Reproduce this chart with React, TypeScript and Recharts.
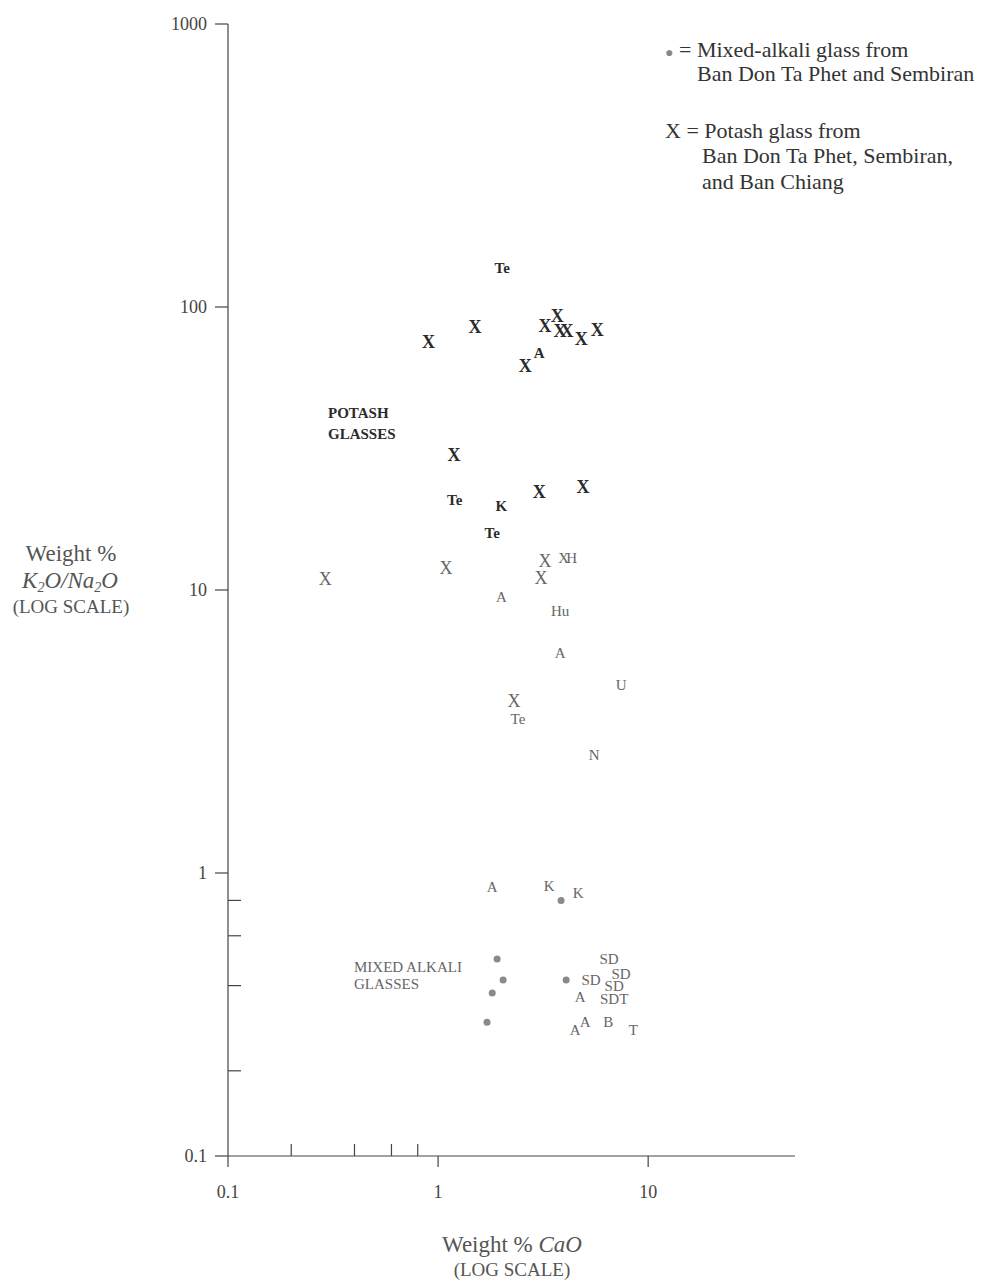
import { Scatter, ScatterChart, XAxis, YAxis } from 'recharts'

const SERIF = '"Times New Roman", "Liberation Serif", serif'
const AXIS = '#444'

const xTicks = [0.1, 0.2, 0.4, 0.6, 0.8, 1, 10]
const xMajor = [0.1, 1, 10]
const yTicks = [0.1, 0.2, 0.4, 0.6, 0.8, 1, 10, 100, 1000]
const yMajor = [0.1, 1, 10, 100, 1000]

// dark bold marks of the potash cluster
const boldLabels = ['X', 'X', 'Te', 'X', 'X', 'X', 'X', 'X', 'X', 'X', 'A', 'X', 'Te', 'K', 'X', 'X', 'Te']
const boldCaO = [0.9, 1.5, 2.02, 3.23, 3.69, 3.81, 4.11, 4.8, 5.72, 2.6, 3.03, 1.19, 1.2, 2.0, 3.03, 4.9, 1.81]
const boldRatio = [75, 85, 137, 86, 93, 82, 82, 77, 83, 62, 69, 30, 20.8, 19.8, 22.2, 23.1, 15.9]

// lighter plain marks
const lightLabels = [
  'X', 'X', 'X', 'XH', 'X', 'A', 'Hu', 'A', 'U', 'X', 'Te', 'N',
  'A', 'K', 'K', 'SD', 'SD', 'SD', 'SD', 'SDT', 'A', 'A', 'A', 'B', 'T',
]
const lightCaO = [
  0.29, 1.09, 3.23, 4.07, 3.09, 2.0, 3.81, 3.81, 7.44, 2.3, 2.4, 5.53,
  1.81, 3.38, 4.64, 6.52, 5.35, 7.43, 6.89, 6.89, 4.75, 5.01, 4.49, 6.45, 8.49,
]
const lightRatio = [
  10.9, 12.0, 12.7, 13.0, 11.0, 9.45, 8.43, 5.99, 4.62, 4.05, 3.5, 2.61,
  0.89, 0.9, 0.85, 0.497, 0.419, 0.44, 0.399, 0.359, 0.365, 0.297, 0.279, 0.297, 0.279,
]

// mixed-alkali glass (dots)
const dotCaO = [3.85, 1.91, 2.04, 1.81, 1.71, 4.07]
const dotRatio = [0.8, 0.497, 0.419, 0.377, 0.297, 0.419]

const boldData = boldLabels.map((label, i) => ({ label, cao: boldCaO[i], ratio: boldRatio[i] }))
const lightData = lightLabels.map((label, i) => ({ label, cao: lightCaO[i], ratio: lightRatio[i] }))
const dotData = dotCaO.map((cao, i) => ({ cao, ratio: dotRatio[i] }))

const fmt = (v: number) => String(v)

function labelShape(bold: boolean) {
  return (props: any) => {
    const { cx, cy, payload } = props
    const isX = payload.label === 'X'
    const size = isX ? 18 : 15
    return (
      <text
        x={cx}
        y={cy}
        textAnchor="middle"
        dominantBaseline="central"
        fontFamily={SERIF}
        fontSize={size}
        fontWeight={bold ? 700 : 400}
        fill={bold ? '#2b2b2b' : '#666'}
        letterSpacing={payload.label === 'XH' ? -3 : 0}
      >
        {payload.label}
      </text>
    )
  }
}

const dotShape = (props: any) => <circle cx={props.cx} cy={props.cy} r={3.5} fill="#8a8a8a" />

function XTick({ x, y, payload }: any) {
  const v = payload.value
  if (!xMajor.includes(v)) {
    return <line x1={x} x2={x} y1={y} y2={y - 12} stroke={AXIS} strokeWidth={1.2} />
  }
  return (
    <g>
      <line x1={x} x2={x} y1={y} y2={y + 11} stroke={AXIS} strokeWidth={1.2} />
      <text x={x} y={y + 36} textAnchor="middle" dominantBaseline="central" fontFamily={SERIF} fontSize={18} fill="#444">
        {fmt(v)}
      </text>
    </g>
  )
}

function YTick({ x, y, payload }: any) {
  const v = payload.value
  if (!yMajor.includes(v)) {
    return <line x1={x} x2={x + 13} y1={y} y2={y} stroke={AXIS} strokeWidth={1.2} />
  }
  return (
    <g>
      <line x1={x - 13} x2={x} y1={y} y2={y} stroke={AXIS} strokeWidth={1.2} />
      <text x={x - 21} y={y} textAnchor="end" dominantBaseline="central" fontFamily={SERIF} fontSize={18} fill="#444">
        {fmt(v)}
      </text>
    </g>
  )
}

function Note({ x, y, size, children, center, style }: any) {
  return (
    <div
      style={{
        position: 'absolute',
        left: x,
        top: y - size / 2,
        fontSize: size,
        lineHeight: `${size}px`,
        fontFamily: SERIF,
        whiteSpace: 'nowrap',
        color: '#333',
        transform: center ? 'translateX(-50%)' : undefined,
        ...style,
      }}
    >
      {children}
    </div>
  )
}

export default function App() {
  // coordinates below are page coords minus the 8px body margin
  return (
    <div style={{ position: 'relative', width: 968, height: 1276 }}>
      <ScatterChart width={968} height={1262} margin={{ top: 16, right: 181, bottom: 84, left: 160 }}>
        <XAxis
          type="number"
          dataKey="cao"
          scale="log"
          domain={[0.1, 50]}
          ticks={xTicks}
          interval={0}
          allowDataOverflow
          height={30}
          tickSize={0}
          tickMargin={0}
          tick={<XTick />}
          axisLine={{ stroke: AXIS, strokeWidth: 1.2 }}
        />
        <YAxis
          type="number"
          dataKey="ratio"
          scale="log"
          domain={[0.1, 1000]}
          ticks={yTicks}
          interval={0}
          allowDataOverflow
          width={60}
          tickSize={0}
          tickMargin={0}
          tick={<YTick />}
          axisLine={{ stroke: AXIS, strokeWidth: 1.2 }}
        />
        <Scatter data={lightData} shape={labelShape(false)} isAnimationActive={false} />
        <Scatter data={boldData} shape={labelShape(true)} isAnimationActive={false} />
        <Scatter data={dotData} shape={dotShape} isAnimationActive={false} />
      </ScatterChart>

      {/* legend, top right */}
      <Note x={657} y={42} size={22}>
        <span style={{ color: '#888', fontSize: 14 }}>●</span> = Mixed-alkali glass from
      </Note>
      <Note x={689} y={66} size={22}>Ban Don Ta Phet and Sembiran</Note>
      <Note x={657} y={123} size={22}>X = Potash glass from</Note>
      <Note x={694} y={148} size={22}>Ban Don Ta Phet, Sembiran,</Note>
      <Note x={694} y={174} size={22}>and Ban Chiang</Note>

      {/* group annotations */}
      <Note x={320} y={405} size={15} style={{ fontWeight: 700, color: '#2b2b2b' }}>POTASH</Note>
      <Note x={320} y={426} size={15} style={{ fontWeight: 700, color: '#2b2b2b' }}>GLASSES</Note>
      <Note x={346} y={959} size={15} style={{ color: '#666' }}>MIXED ALKALI</Note>
      <Note x={346} y={976} size={15} style={{ color: '#666' }}>GLASSES</Note>

      {/* y axis title */}
      <Note x={63} y={545} size={23} center style={{ color: '#555' }}>Weight %</Note>
      <Note x={62} y={572} size={23} center style={{ color: '#555', fontStyle: 'italic' }}>
        K<sub style={{ fontSize: 14, verticalAlign: '-4px' }}>2</sub>O/Na<sub style={{ fontSize: 14, verticalAlign: '-4px' }}>2</sub>O
      </Note>
      <Note x={63} y={598} size={19} center style={{ color: '#555' }}>(LOG SCALE)</Note>

      {/* x axis title */}
      <Note x={504} y={1236} size={23} center style={{ color: '#555' }}>
        Weight % <i>CaO</i>
      </Note>
      <Note x={504} y={1261} size={19} center style={{ color: '#555' }}>(LOG SCALE)</Note>
    </div>
  )
}
